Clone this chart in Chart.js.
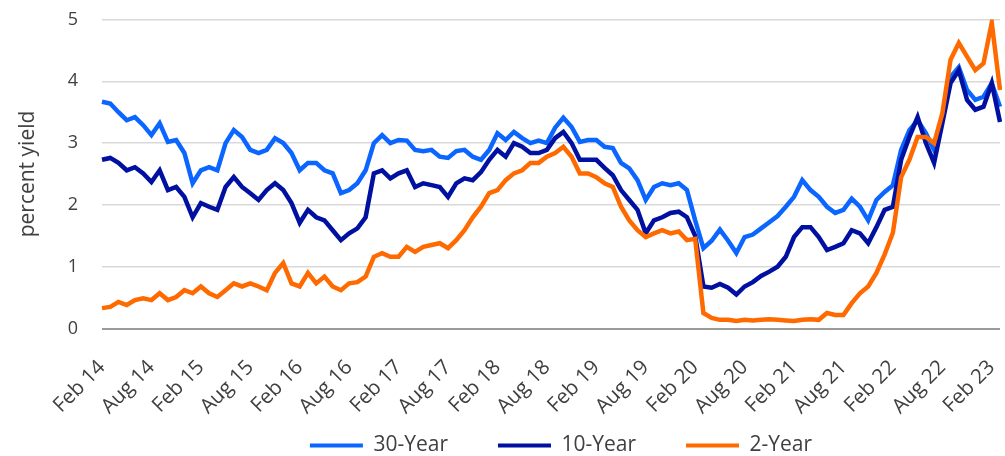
<!DOCTYPE html>
<html>
<head>
<meta charset="utf-8">
<script src="https://cdn.jsdelivr.net/npm/chart.js@4/dist/chart.umd.min.js"></script>
<style>
  html, body { margin: 0; padding: 0; background: #fff; }
  #wrap { width: 1005px; height: 456px; }
</style>
</head>
<body>
<div id="wrap"><canvas id="yieldChart"></canvas></div>
<script>
// Treasury yields, one value per month from Feb 2014 to Mar 2023
const monthNames = ["Jan", "Feb", "Mar", "Apr", "May", "Jun", "Jul", "Aug", "Sep", "Oct", "Nov", "Dec"];
const monthLabels = [];
for (let i = 0; i < 110; i++) {
    monthLabels.push(monthNames[(1 + i) % 12] + " " + (14 + Math.floor((1 + i) / 12)));
}

const tickLabels = ["Feb 14", "Aug 14", "Feb 15", "Aug 15", "Feb 16", "Aug 16", "Feb 17", "Aug 17",
    "Feb 18", "Aug 18", "Feb 19", "Aug 19", "Feb 20", "Aug 20", "Feb 21", "Aug 21", "Feb 22", "Aug 22", "Feb 23"];

const yield30 = [
    3.67, 3.64, 3.50, 3.37, 3.42, 3.29, 3.13, 3.32, 3.02, 3.05, 2.84, 2.35,
    2.56, 2.61, 2.56, 3.00, 3.21, 3.10, 2.89, 2.84, 2.89, 3.08, 3.00, 2.84,
    2.56, 2.68, 2.68, 2.56, 2.51, 2.19, 2.24, 2.35, 2.56, 3.00, 3.13, 3.00,
    3.05, 3.04, 2.89, 2.87, 2.89, 2.78, 2.76, 2.87, 2.89, 2.78, 2.73, 2.89,
    3.16, 3.05, 3.18, 3.08, 3.00, 3.04, 3.00, 3.25, 3.41, 3.26, 3.02, 3.05,
    3.05, 2.94, 2.92, 2.68, 2.59, 2.40, 2.08, 2.29, 2.35, 2.32, 2.35, 2.24,
    1.75, 1.30, 1.42, 1.60, 1.42, 1.22, 1.48, 1.52, 1.62, 1.72, 1.82, 1.97,
    2.13, 2.40, 2.24, 2.13, 1.97, 1.87, 1.92, 2.10, 1.97, 1.75, 2.08, 2.21,
    2.32, 2.89, 3.21, 3.37, 3.16, 2.89, 3.37, 4.07, 4.23, 3.86, 3.70, 3.75,
    3.97, 3.59
];

const yield10 = [
    2.73, 2.76, 2.68, 2.56, 2.61, 2.51, 2.37, 2.56, 2.24, 2.29, 2.13, 1.80,
    2.03, 1.97, 1.92, 2.29, 2.45, 2.29, 2.19, 2.08, 2.24, 2.35, 2.24, 2.03,
    1.71, 1.92, 1.80, 1.75, 1.59, 1.43, 1.54, 1.62, 1.80, 2.51, 2.56, 2.43,
    2.51, 2.56, 2.29, 2.35, 2.32, 2.29, 2.13, 2.35, 2.43, 2.40, 2.53, 2.73,
    2.89, 2.78, 3.00, 2.94, 2.84, 2.84, 2.89, 3.08, 3.18, 3.00, 2.73, 2.73,
    2.73, 2.60, 2.48, 2.24, 2.08, 1.92, 1.54, 1.75, 1.80, 1.87, 1.89, 1.80,
    1.50, 0.68, 0.66, 0.72, 0.66, 0.55, 0.68, 0.75, 0.85, 0.92, 1.00, 1.16,
    1.48, 1.64, 1.64, 1.48, 1.27, 1.32, 1.38, 1.59, 1.54, 1.38, 1.64, 1.92,
    1.97, 2.73, 3.10, 3.42, 3.00, 2.68, 3.32, 3.97, 4.18, 3.70, 3.54, 3.59,
    3.97, 3.34
];

const yield2 = [
    0.33, 0.35, 0.43, 0.38, 0.46, 0.49, 0.46, 0.57, 0.46, 0.51, 0.62, 0.57,
    0.68, 0.57, 0.51, 0.62, 0.73, 0.68, 0.73, 0.68, 0.62, 0.90, 1.06, 0.73,
    0.68, 0.90, 0.73, 0.84, 0.68, 0.62, 0.73, 0.75, 0.84, 1.16, 1.22, 1.16,
    1.16, 1.32, 1.24, 1.32, 1.35, 1.38, 1.30, 1.43, 1.59, 1.80, 1.97, 2.19,
    2.24, 2.40, 2.51, 2.56, 2.68, 2.68, 2.78, 2.84, 2.94, 2.78, 2.51, 2.51,
    2.45, 2.35, 2.29, 1.97, 1.75, 1.59, 1.48, 1.54, 1.59, 1.54, 1.57, 1.43,
    1.45, 0.25, 0.17, 0.14, 0.14, 0.12, 0.14, 0.13, 0.14, 0.15, 0.14, 0.13,
    0.12, 0.14, 0.15, 0.14, 0.25, 0.22, 0.22, 0.41, 0.57, 0.68, 0.90, 1.20,
    1.55, 2.45, 2.73, 3.10, 3.10, 3.00, 3.48, 4.35, 4.62, 4.40, 4.18, 4.29,
    4.95, 3.86
];

const textColor = "#404040";
const fontFamily = "'Open Sans', sans-serif";
const legendGap = 50;      // horizontal space between legend items
const legendTopPad = 8;    // vertical space above the legend row

const makeSeries = (label, values, color, order) => ({
    label: label,
    data: values,
    borderColor: color,
    backgroundColor: color,
    borderWidth: 4.5,
    pointRadius: 0,
    tension: 0,
    order: order
});

// legend padding is used both ways in Chart.js; keep the wide horizontal gap
// but pull the row back up so it sits just under the axis labels
const legendNudge = {
    id: "legendNudge",
    afterLayout(chart) {
        const lg = chart.legend;
        lg.top -= legendGap - legendTopPad;
        lg.left += 10;
        lg.right += 10;
    }
};

new Chart(document.getElementById("yieldChart"), {
    type: "line",
    data: {
        labels: monthLabels,
        datasets: [
            makeSeries("30-Year", yield30, "#0a66ff", 3),
            makeSeries("10-Year", yield10, "#0010a0", 2),
            makeSeries("2-Year", yield2, "#ff6a00", 1)
        ]
    },
    plugins: [legendNudge],
    options: {
        responsive: true,
        maintainAspectRatio: false,
        animation: false,
        layout: { padding: { top: 19.5, right: 5, left: 0, bottom: 0 } },
        plugins: {
            tooltip: { enabled: false },
            legend: {
                position: "bottom",
                fullSize: false,
                maxHeight: 29,
                labels: {
                    color: textColor,
                    font: { family: fontFamily, size: 21 },
                    boxWidth: 53,
                    boxHeight: 4,
                    padding: legendGap,
                    sort: (a, b) => a.datasetIndex - b.datasetIndex,
                    generateLabels: (chart) =>
                        Chart.defaults.plugins.legend.labels.generateLabels(chart)
                            .map(item => ({ ...item, fillStyle: item.strokeStyle, lineWidth: 0 }))
                }
            }
        },
        scales: {
            x: {
                grid: { display: false },
                border: { display: false },
                ticks: {
                    autoSkip: false,
                    maxRotation: 45,
                    minRotation: 45,
                    padding: 19,
                    color: textColor,
                    font: { family: fontFamily, size: 20.5 },
                    callback: function (value) {
                        const lab = this.getLabelForValue(value);
                        return tickLabels.includes(lab) ? lab : null;
                    }
                },
                afterFit: (scale) => {
                    scale.height = 98.5;
                    scale.paddingLeft = 0;
                    scale.paddingRight = 0;
                }
            },
            y: {
                min: 0,
                max: 5,
                ticks: {
                    stepSize: 1,
                    padding: 24,
                    color: textColor,
                    font: { family: fontFamily, size: 18 }
                },
                grid: {
                    drawTicks: false,
                    color: (ctx) => ctx.tick.value === 0 ? "#9a9a9a" : "#d9d9d9",
                    lineWidth: (ctx) => ctx.tick.value === 0 ? 2 : 1.5
                },
                border: { display: false },
                title: {
                    display: true,
                    text: "percent yield",
                    color: textColor,
                    font: { family: fontFamily, size: 21 },
                    padding: { top: 15, bottom: 0 }
                },
                afterFit: (scale) => {
                    scale.width = 102;
                    scale.paddingTop = 0;
                    scale.paddingBottom = 0;
                }
            }
        }
    }
});
</script>
</body>
</html>
